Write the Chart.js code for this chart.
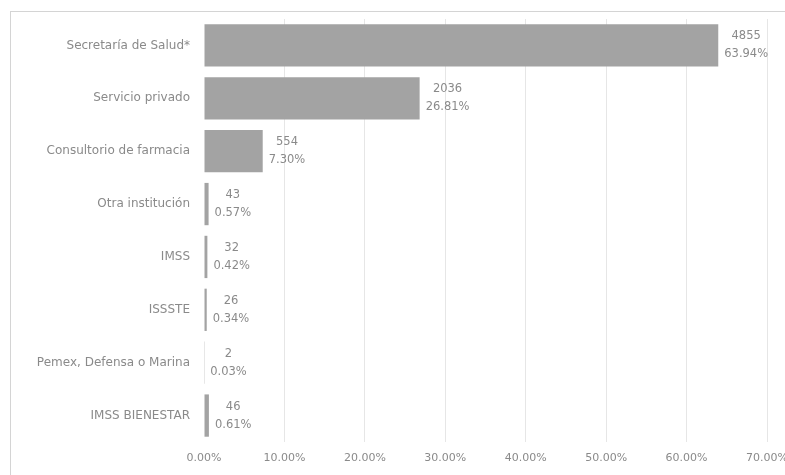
<!DOCTYPE html>
<html>
<head>
<meta charset="utf-8">
<script src="https://cdn.jsdelivr.net/npm/chart.js@4/dist/chart.umd.min.js"></script>
<style>
  html, body { margin: 0; padding: 0; background: #ffffff; overflow: hidden; width: 785px; height: 475px; }
  #frame { position: absolute; left: 10px; top: 11px; width: 790px; height: 480px;
           border-top: 1px solid #d4d4d4; border-left: 1px solid #d4d4d4; }
  #wrap { position: absolute; left: 0; top: 0; width: 774px; height: 463px; }
</style>
</head>
<body>
<div id="frame"><div id="wrap"><canvas id="c"></canvas></div></div>
<script>
const categories = ["Secretaría de Salud*", "Servicio privado", "Consultorio de farmacia", "Otra institución", "IMSS", "ISSSTE", "Pemex, Defensa o Marina", "IMSS BIENESTAR"];
const counts = [4855, 2036, 554, 43, 32, 26, 2, 46];
const percents = [63.94, 26.81, 7.30, 0.57, 0.42, 0.34, 0.03, 0.61];
const xTicks = [0, 10, 20, 30, 40, 50, 60, 70];

const textColor = '#8a8a8a';
const fontFamily = '"DejaVu Sans", sans-serif';

const labelPlugin = {
  id: 'barLabels',
  afterDatasetsDraw(chart) {
    const ctx = chart.ctx;
    const meta = chart.getDatasetMeta(0);
    ctx.save();
    ctx.font = '11.5px ' + fontFamily;
    ctx.fillStyle = textColor;
    ctx.textAlign = 'center';
    ctx.textBaseline = 'middle';
    meta.data.forEach((bar, i) => {
      const l1 = String(counts[i]);
      const l2 = percents[i].toFixed(2) + '%';
      const w = Math.max(ctx.measureText(l1).width, ctx.measureText(l2).width);
      const cx = bar.x + 6 + w / 2;
      ctx.fillText(l1, cx, bar.y - 9);
      ctx.fillText(l2, cx, bar.y + 9);
    });
    ctx.restore();
  }
};

new Chart(document.getElementById('c'), {
  type: 'bar',
  data: {
    labels: categories,
    datasets: [{
      data: percents,
      backgroundColor: '#a3a3a3',
      borderWidth: 0,
      categoryPercentage: 0.8,
      barPercentage: 1.0
    }]
  },
  options: {
    indexAxis: 'y',
    responsive: true,
    maintainAspectRatio: false,
    animation: false,
    layout: { padding: { left: 0, right: 18, top: 7, bottom: 0 } },
    plugins: { legend: { display: false }, tooltip: { enabled: false } },
    scales: {
      x: {
        min: 0, max: 70,
        afterBuildTicks: (s) => { s.ticks = xTicks.map(v => ({ value: v })); },
        afterFit: (s) => { s.height = 33; s.paddingLeft = 0; s.paddingRight = 0; },
        grid: {
          color: (c) => c.index === 0 ? 'rgba(0,0,0,0)' : '#e6e6e6',
          drawTicks: false, lineWidth: 1
        },
        border: { display: false },
        ticks: {
          padding: 10,
          color: textColor,
          font: { family: fontFamily, size: 11 },
          maxRotation: 0,
          callback: (v) => Number(v).toFixed(2) + '%'
        }
      },
      y: {
        afterFit: (s) => { s.width = 193; s.paddingTop = 0; s.paddingBottom = 0; },
        grid: { display: false, drawTicks: false },
        border: { display: false },
        ticks: {
          padding: 14,
          color: textColor,
          font: { family: fontFamily, size: 12 }
        }
      }
    }
  },
  plugins: [labelPlugin]
});
</script>
</body>
</html>
